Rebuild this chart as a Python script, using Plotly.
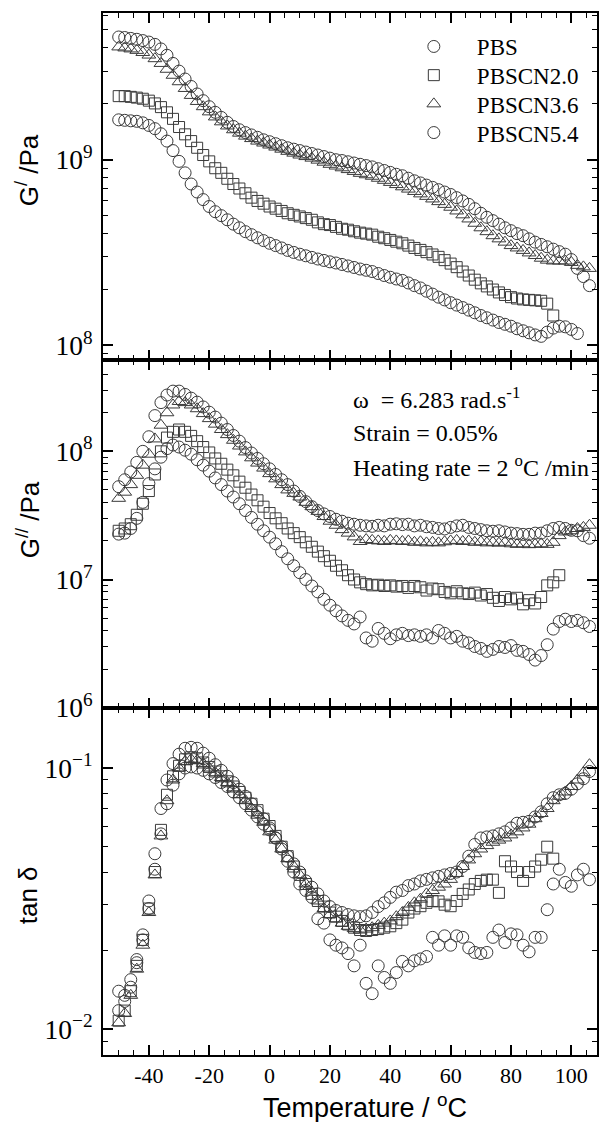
import plotly.graph_objects as go
from plotly.subplots import make_subplots

temperature = [-50, -48, -46, -44, -42, -40, -38, -36, -34, -32, -30, -28, -26, -24, -22, -20,
               -18, -16, -14, -12, -10, -8, -6, -4, -2, 0, 2, 4, 6, 8, 10, 12, 14, 16, 18, 20,
               22, 24, 26, 28, 30, 32, 34, 36, 38, 40, 42, 44, 46, 48, 50, 52, 54, 56, 58, 60,
               62, 64, 66, 68, 70, 72, 74, 76, 78, 80, 82, 84, 86, 88, 90, 92, 94, 96, 98, 100,
               102, 104, 106]

# ---- storage modulus G' (Pa) ----
gp_pbs = [1.64e9, 1.63e9, 1.62e9, 1.61e9, 1.58e9, 1.53e9, 1.47e9, 1.38e9, 1.26e9, 1.12e9, 9.8e8, 8.5e8,
          7.4e8, 6.7e8, 6.1e8, 5.6e8, 5.25e8, 5.0e8, 4.75e8, 4.5e8, 4.3e8, 4.1e8, 3.95e8, 3.8e8, 3.67e8,
          3.55e8, 3.45e8, 3.35e8, 3.25e8, 3.17e8, 3.1e8, 3.04e8, 2.98e8, 2.92e8, 2.87e8, 2.82e8, 2.78e8,
          2.73e8, 2.68e8, 2.63e8, 2.58e8, 2.54e8, 2.5e8, 2.44e8, 2.38e8, 2.33e8, 2.28e8, 2.24e8, 2.17e8,
          2.1e8, 2.04e8, 1.96e8, 1.89e8, 1.82e8, 1.76e8, 1.7e8, 1.65e8, 1.6e8, 1.55e8, 1.5e8, 1.45e8,
          1.41e8, 1.37e8, 1.33e8, 1.3e8, 1.27e8, 1.23e8, 1.2e8, 1.17e8, 1.14e8, 1.12e8, 1.18e8, 1.24e8,
          1.27e8, 1.26e8, 1.22e8, 1.16e8]
gp_cn20 = [2.2e9, 2.2e9, 2.18e9, 2.16e9, 2.13e9, 2.08e9, 2.01e9, 1.92e9, 1.8e9, 1.66e9, 1.5e9, 1.37e9,
           1.26e9, 1.16e9, 1.06e9, 9.8e8, 9.0e8, 8.5e8, 7.9e8, 7.4e8, 7.0e8, 6.6e8, 6.25e8, 6.0e8, 5.8e8,
           5.6e8, 5.45e8, 5.3e8, 5.15e8, 5.05e8, 4.95e8, 4.85e8, 4.75e8, 4.6e8, 4.5e8, 4.45e8, 4.35e8,
           4.25e8, 4.2e8, 4.12e8, 4.05e8, 4.0e8, 3.95e8, 3.85e8, 3.78e8, 3.7e8, 3.62e8, 3.55e8, 3.45e8,
           3.35e8, 3.27e8, 3.18e8, 3.09e8, 3.0e8, 2.88e8, 2.76e8, 2.64e8, 2.5e8, 2.38e8, 2.26e8, 2.16e8,
           2.08e8, 2.0e8, 1.93e8, 1.87e8, 1.82e8, 1.79e8, 1.77e8, 1.76e8, 1.75e8, 1.74e8, 1.68e8, 1.45e8]
gp_cn36 = [4.05e9, 4.0e9, 3.95e9, 3.88e9, 3.78e9, 3.66e9, 3.5e9, 3.3e9, 3.07e9, 2.85e9, 2.63e9, 2.42e9,
           2.22e9, 2.06e9, 1.93e9, 1.81e9, 1.7e9, 1.6e9, 1.52e9, 1.45e9, 1.39e9, 1.34e9, 1.3e9, 1.26e9,
           1.23e9, 1.2e9, 1.17e9, 1.14e9, 1.11e9, 1.085e9, 1.06e9, 1.04e9, 1.02e9, 9.95e8, 9.7e8, 9.45e8,
           9.25e8, 9.05e8, 8.85e8, 8.65e8, 8.45e8, 8.3e8, 8.15e8, 7.95e8, 7.75e8, 7.55e8, 7.35e8, 7.15e8,
           6.95e8, 6.75e8, 6.55e8, 6.35e8, 6.15e8, 5.95e8, 5.75e8, 5.55e8, 5.3e8, 5.05e8, 4.8e8, 4.55e8,
           4.3e8, 4.1e8, 3.9e8, 3.75e8, 3.6e8, 3.45e8, 3.35e8, 3.25e8, 3.15e8, 3.05e8, 2.95e8, 2.88e8,
           2.85e8, 2.85e8, 2.85e8, 2.8e8, 2.7e8, 2.65e8, 2.6e8]
gp_cn54 = [4.58e9, 4.55e9, 4.5e9, 4.45e9, 4.38e9, 4.3e9, 4.18e9, 3.95e9, 3.65e9, 3.3e9, 3.0e9, 2.72e9,
           2.48e9, 2.26e9, 2.08e9, 1.93e9, 1.8e9, 1.69e9, 1.59e9, 1.51e9, 1.45e9, 1.4e9, 1.36e9, 1.32e9,
           1.28e9, 1.25e9, 1.22e9, 1.19e9, 1.16e9, 1.14e9, 1.12e9, 1.1e9, 1.08e9, 1.06e9, 1.04e9, 1.02e9,
           1.0e9, 9.9e8, 9.75e8, 9.6e8, 9.45e8, 9.3e8, 9.15e8, 8.95e8, 8.75e8, 8.55e8, 8.35e8, 8.2e8,
           7.95e8, 7.7e8, 7.5e8, 7.3e8, 7.1e8, 6.9e8, 6.7e8, 6.5e8, 6.25e8, 6.0e8, 5.75e8, 5.45e8, 5.15e8,
           4.9e8, 4.7e8, 4.5e8, 4.3e8, 4.15e8, 4.0e8, 3.9e8, 3.75e8, 3.6e8, 3.5e8, 3.4e8, 3.3e8, 3.2e8,
           3.1e8, 2.9e8, 2.6e8, 2.35e8, 2.1e8]

# ---- loss modulus G'' (Pa) ----
gpp_pbs = [2.26e7, 2.3e7, 2.5e7, 3.0e7, 4.0e7, 5.6e7, 7.3e7, 9.0e7, 1.05e8, 1.12e8, 1.08e8, 1.02e8,
           9.5e7, 8.6e7, 7.8e7, 7.0e7, 6.2e7, 5.5e7, 4.9e7, 4.4e7, 3.9e7, 3.45e7, 3.05e7, 2.7e7, 2.4e7,
           2.14e7, 1.9e7, 1.65e7, 1.45e7, 1.28e7, 1.13e7, 1.0e7, 8.9e6, 8.0e6, 7.0e6, 6.3e6, 5.7e6,
           5.2e6, 4.8e6, 4.5e6, 5.1e6, 3.5e6, 3.3e6, 4.15e6, 3.8e6, 3.45e6, 3.7e6, 3.8e6, 3.65e6, 3.7e6,
           3.6e6, 3.7e6, 3.5e6, 4.0e6, 3.8e6, 3.5e6, 3.6e6, 3.3e6, 3.2e6, 3.0e6, 2.9e6, 2.75e6, 2.85e6,
           3.0e6, 2.95e6, 3.05e6, 2.8e6, 2.75e6, 2.6e6, 2.35e6, 2.55e6, 3.1e6, 4.1e6, 4.7e6, 4.9e6,
           4.7e6, 4.8e6, 4.6e6, 4.3e6]
gpp_cn20 = [2.4e7, 2.5e7, 2.7e7, 3.2e7, 3.9e7, 4.9e7, 6.6e7, 1.0e8, 1.28e8, 1.42e8, 1.48e8, 1.42e8,
            1.32e8, 1.2e8, 1.08e8, 9.8e7, 8.8e7, 8.0e7, 7.2e7, 6.5e7, 5.8e7, 5.2e7, 4.6e7, 4.15e7, 3.7e7,
            3.3e7, 3.0e7, 2.75e7, 2.5e7, 2.3e7, 2.14e7, 1.95e7, 1.8e7, 1.65e7, 1.52e7, 1.4e7, 1.28e7,
            1.18e7, 1.08e7, 1.0e7, 9.5e6, 9.2e6, 9.0e6, 9.1e6, 8.9e6, 9.0e6, 8.8e6, 8.9e6, 8.6e6, 8.9e6,
            8.7e6, 8.2e6, 8.5e6, 8.4e6, 8.0e6, 7.8e6, 8.1e6, 7.8e6, 7.7e6, 7.9e6, 7.5e6, 7.7e6, 7.2e6,
            6.8e6, 7.3e6, 7.0e6, 7.2e6, 6.4e6, 6.9e6, 6.5e6, 7.3e6, 9.0e6, 9.5e6, 1.08e7]
gpp_cn36 = [4.3e7, 4.8e7, 5.5e7, 6.5e7, 7.8e7, 9.5e7, 1.25e8, 1.6e8, 2.0e8, 2.3e8, 2.45e8, 2.4e8,
            2.3e8, 2.15e8, 1.97e8, 1.8e8, 1.63e8, 1.48e8, 1.35e8, 1.22e8, 1.1e8, 9.9e7, 8.9e7, 8.1e7,
            7.4e7, 6.7e7, 6.1e7, 5.5e7, 5.0e7, 4.7e7, 4.4e7, 4.0e7, 3.7e7, 3.4e7, 3.1e7, 2.85e7, 2.65e7,
            2.45e7, 2.3e7, 2.15e7, 1.98e7, 2.05e7, 2.02e7, 2.0e7, 1.98e7, 2.02e7, 2.0e7, 1.98e7, 2.0e7,
            1.95e7, 1.97e7, 1.93e7, 1.95e7, 1.93e7, 1.97e7, 2.0e7, 2.02e7, 1.98e7, 2.0e7, 1.95e7, 1.97e7,
            1.93e7, 1.95e7, 1.92e7, 1.95e7, 1.9e7, 1.88e7, 1.9e7, 1.87e7, 1.88e7, 1.9e7, 1.88e7, 1.95e7,
            2.2e7, 2.35e7, 2.4e7, 2.5e7, 2.55e7, 2.65e7]
gpp_cn54 = [5.3e7, 6.0e7, 6.9e7, 8.2e7, 1.0e8, 1.3e8, 1.9e8, 2.4e8, 2.75e8, 2.95e8, 2.95e8, 2.78e8,
            2.6e8, 2.42e8, 2.22e8, 2.02e8, 1.85e8, 1.66e8, 1.48e8, 1.33e8, 1.2e8, 1.07e8, 9.7e7, 8.8e7,
            8.0e7, 7.3e7, 6.6e7, 6.0e7, 5.5e7, 4.9e7, 4.45e7, 4.05e7, 3.7e7, 3.45e7, 3.25e7, 3.1e7,
            2.95e7, 2.85e7, 2.75e7, 2.7e7, 2.65e7, 2.62e7, 2.6e7, 2.65e7, 2.62e7, 2.7e7, 2.72e7, 2.68e7,
            2.7e7, 2.62e7, 2.65e7, 2.58e7, 2.55e7, 2.5e7, 2.48e7, 2.55e7, 2.62e7, 2.65e7, 2.55e7, 2.5e7,
            2.45e7, 2.4e7, 2.38e7, 2.4e7, 2.35e7, 2.3e7, 2.28e7, 2.25e7, 2.25e7, 2.3e7, 2.3e7, 2.4e7,
            2.5e7, 2.55e7, 2.5e7, 2.42e7, 2.4e7, 2.2e7, 2.1e7]

# ---- tan delta ----
tan_pbs = [0.014, 0.0135, 0.0155, 0.0185, 0.023, 0.031, 0.047, 0.07, 0.09, 0.104, 0.113, 0.119, 0.12,
           0.119, 0.114, 0.109, 0.103, 0.098, 0.093, 0.088, 0.083, 0.078, 0.073, 0.068, 0.064, 0.059,
           0.054, 0.049, 0.044, 0.040, 0.036, 0.034, 0.032, 0.0265, 0.0255, 0.022, 0.021, 0.0205,
           0.0195, 0.0175, 0.021, 0.015, 0.0137, 0.0175, 0.0158, 0.015, 0.0165, 0.0182, 0.0175, 0.0183,
           0.0186, 0.019, 0.0225, 0.021, 0.0228, 0.021, 0.0228, 0.0225, 0.0205, 0.0197, 0.0195, 0.0197,
           0.0225, 0.024, 0.0215, 0.0232, 0.023, 0.021, 0.0198, 0.0225, 0.0225, 0.0287, 0.036, 0.041,
           0.0365, 0.0353, 0.039, 0.041, 0.0374]
tan_cn20 = [0.0108, 0.0118, 0.014, 0.0175, 0.022, 0.029, 0.04, 0.058, 0.079, 0.093, 0.102, 0.108, 0.11,
            0.109, 0.105, 0.101, 0.097, 0.093, 0.089, 0.085, 0.081, 0.077, 0.073, 0.069, 0.064, 0.06,
            0.055, 0.05, 0.046, 0.042, 0.039, 0.036, 0.033, 0.031, 0.0295, 0.028, 0.027, 0.026, 0.0252,
            0.0245, 0.024, 0.0238, 0.024, 0.0242, 0.0245, 0.0248, 0.0255, 0.0263, 0.028, 0.029, 0.0296,
            0.0305, 0.031, 0.0309, 0.03, 0.0296, 0.031, 0.033, 0.0343, 0.036, 0.037, 0.0374, 0.0374,
            0.0333, 0.044, 0.042, 0.04, 0.037, 0.04, 0.042, 0.0446, 0.05, 0.045]
tan_cn36 = [0.0106, 0.0115, 0.0135, 0.017, 0.021, 0.028, 0.039, 0.055, 0.075, 0.09, 0.1, 0.106, 0.108,
            0.107, 0.104, 0.1, 0.096, 0.092, 0.088, 0.084, 0.079, 0.075, 0.07, 0.066, 0.062, 0.057,
            0.053, 0.049, 0.045, 0.042, 0.039, 0.036, 0.0335, 0.031, 0.029, 0.0275, 0.0265, 0.0255,
            0.0248, 0.0243, 0.024, 0.0242, 0.0245, 0.025, 0.0255, 0.026, 0.027, 0.028, 0.0293, 0.0305,
            0.0315, 0.033, 0.034, 0.035, 0.036, 0.0375, 0.0395, 0.042, 0.0445, 0.047, 0.049, 0.0505,
            0.052, 0.053, 0.054, 0.0555, 0.057, 0.059, 0.061, 0.064, 0.067, 0.07, 0.075, 0.078, 0.081,
            0.085, 0.09, 0.096, 0.103]
tan_cn54 = [0.0118, 0.0128, 0.0145, 0.018, 0.022, 0.029, 0.041, 0.056, 0.073, 0.086, 0.095, 0.1, 0.101,
            0.1, 0.098, 0.095, 0.092, 0.088, 0.085, 0.081, 0.077, 0.073, 0.069, 0.065, 0.061, 0.058,
            0.054, 0.05, 0.046, 0.043, 0.04, 0.037, 0.035, 0.033, 0.031, 0.0295, 0.0285, 0.028, 0.0275,
            0.0272, 0.027, 0.0272, 0.028, 0.0295, 0.0305, 0.032, 0.0335, 0.034, 0.0355, 0.036, 0.037,
            0.0375, 0.038, 0.0385, 0.039, 0.0395, 0.04, 0.042, 0.046, 0.051, 0.054, 0.0545, 0.055, 0.056,
            0.057, 0.059, 0.0615, 0.062, 0.0625, 0.065, 0.068, 0.073, 0.077, 0.079, 0.08, 0.083, 0.087,
            0.091, 0.097]

series_names = ["PBS", "PBSCN2.0", "PBSCN3.6", "PBSCN5.4"]
series_symbols = ["circle-open", "square-open", "triangle-up-open", "circle-open"]
gp_all = [gp_pbs, gp_cn20, gp_cn36, gp_cn54]
gpp_all = [gpp_pbs, gpp_cn20, gpp_cn36, gpp_cn54]
tan_all = [tan_pbs, tan_cn20, tan_cn36, tan_cn54]

x_tickvals = [-40, -20, 0, 20, 40, 60, 80, 100]
x_ticktext = ["-40", "-20", "0", "20", "40", "60", "80", "100"]

fig = make_subplots(rows=3, cols=1, shared_xaxes=True, vertical_spacing=0)

legend_ids = ["legend", "legend2", "legend3", "legend4"]
MK = "#3a3a3a"
for i, name in enumerate(series_names):
    sym = series_symbols[i]
    size = 11 if sym == "square-open" else 12
    for row, data in ((1, gp_all[i]), (2, gpp_all[i]), (3, tan_all[i])):
        fig.add_trace(go.Scatter(
            x=temperature[:len(data)], y=data, mode="markers", name=name,
            legendgroup=name, showlegend=(row == 1), legend=legend_ids[i],
            marker=dict(symbol=sym, size=size, color=MK, line=dict(width=1, color=MK)),
        ), row=row, col=1)

tickfont = dict(family="Liberation Serif", size=22, color="black")
for r in (1, 2, 3):
    fig.update_xaxes(
        row=r, col=1, range=[-55.2, 108.5], tickmode="array", tickvals=x_tickvals,
        ticktext=x_ticktext, ticks="inside", ticklen=10, tickwidth=1.5, tickcolor="black",
        minor=dict(ticks="inside", ticklen=5, tickwidth=1.2, dtick=5, tick0=0, tickcolor="black"),
        showline=True, linewidth=2, linecolor="black", mirror="allticks",
        showgrid=False, zeroline=False, tickfont=tickfont, ticklabelstandoff=0,
        showticklabels=(r == 3),
    )

yranges = {1: [7.92, 9.79], 2: [6.0, 8.71], 3: [-2.098, -0.769]}
for r in (1, 2, 3):
    fig.update_yaxes(
        row=r, col=1, type="log", range=yranges[r], dtick=1, exponentformat="power",
        ticks="inside", ticklen=10, tickwidth=1.5, tickcolor="black",
        minor=dict(ticks="inside", ticklen=5, tickwidth=1.2, dtick="D1", tickcolor="black"),
        showline=True, linewidth=2, linecolor="black", mirror="allticks",
        showgrid=False, zeroline=False, tickfont=tickfont, ticklabelstandoff=4,
    )

PT, PB, PL, PW = 13, 1055, 103, 496
PH = PB - PT


def px(x):
    return (x - PL) / PW


def py(y):
    return (PB - y) / PH


sans = dict(family="Liberation Sans", size=26, color="black")
serif = dict(family="Liberation Serif", size=24, color="black")
annots = [
    dict(text="G<sup>/</sup> /Pa", x=px(28), y=py(170), textangle=-90, font=sans),
    dict(text="G<sup>//</sup> /Pa", x=px(28), y=py(520), textangle=-90, font=sans),
    dict(text="tan δ", x=px(28), y=py(895), textangle=-90, font=sans),
    dict(text="Temperature / <sup>o</sup>C", x=px(366), y=py(1106),
         font=dict(family="Liberation Sans", size=27, color="black")),
]
for a in annots:
    fig.add_annotation(xref="paper", yref="paper", showarrow=False, xanchor="center", yanchor="middle", **a)

for txt, y in (("ω  = 6.283 rad.s<sup>-1</sup>", 398), ("Strain = 0.05%", 433),
               ("Heating rate = 2 <sup>o</sup>C /min", 466)):
    fig.add_annotation(xref="paper", yref="paper", showarrow=False, xanchor="left", yanchor="middle",
                       x=px(352), y=py(y), text=txt, font=serif)

legend_rows = [46.5, 75.2, 103.9, 132.6]
legend_layout = {}
for lid, yrow in zip(legend_ids, legend_rows):
    legend_layout[lid] = dict(
        x=px(392), y=py(yrow), xanchor="left", yanchor="middle",
        font=dict(family="Liberation Serif", size=23, color="black"),
        bgcolor="rgba(0,0,0,0)", itemwidth=76, tracegroupgap=0,
    )

fig.update_layout(
    width=600, height=1122,
    margin=dict(l=PL, r=1, t=PT, b=1122 - PB),
    paper_bgcolor="white", plot_bgcolor="white",
    showlegend=True,
    **legend_layout,
)

fig.write_html("out.html")
